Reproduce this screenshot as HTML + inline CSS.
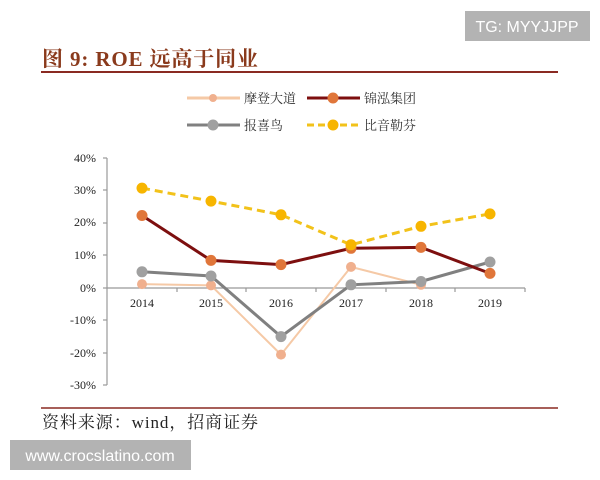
<!DOCTYPE html>
<html><head><meta charset="utf-8"><style>
body{margin:0;width:600px;height:480px;background:#fff;overflow:hidden;font-family:"Liberation Serif","Noto Serif CJK SC",serif;}
</style></head><body>
<svg width="600" height="480" viewBox="0 0 600 480" xmlns="http://www.w3.org/2000/svg" style="position:absolute;left:0;top:0">
<rect x="465" y="11" width="125" height="30" fill="#b3b3b3"/>
<text x="527" y="32" font-family="Liberation Sans,sans-serif" font-size="16" fill="#fff" text-anchor="middle">TG: MYYJJPP</text>
<text x="42" y="66" font-size="21" font-weight="bold" fill="#8a3a1c" font-family="Liberation Serif,'Noto Serif CJK SC',serif" textLength="216" lengthAdjust="spacing">图 9:  ROE 远高于同业</text>
<line x1="41" y1="72" x2="558" y2="72" stroke="#8a2a22" stroke-width="2"/>
<g font-size="13" fill="#333" font-family="Liberation Serif,'Noto Serif CJK SC',serif">
<line x1="187" y1="98" x2="240" y2="98" stroke="#f5c9a6" stroke-width="3"/><circle cx="213" cy="98" r="4" fill="#f0b08e"/>
<text x="244" y="103">摩登大道</text>
<line x1="307" y1="98" x2="360" y2="98" stroke="#7d0f0f" stroke-width="3"/><circle cx="333" cy="98" r="5.5" fill="#e0763a"/>
<text x="364" y="103">锦泓集团</text>
<line x1="187" y1="125" x2="240" y2="125" stroke="#808080" stroke-width="3"/><circle cx="213" cy="125" r="5.5" fill="#a0a0a0"/>
<text x="244" y="130">报喜鸟</text>
<line x1="307" y1="125" x2="360" y2="125" stroke="#f2c21a" stroke-width="3" stroke-dasharray="7,4"/><circle cx="333" cy="125" r="5.5" fill="#f7b500"/>
<text x="364" y="130">比音勒芬</text>
</g>
<g font-size="12" fill="#222" text-anchor="end">
<text x="96" y="162">40%</text><text x="96" y="194">30%</text><text x="96" y="226">20%</text><text x="96" y="259">10%</text><text x="96" y="292">0%</text><text x="96" y="324">-10%</text><text x="96" y="357">-20%</text><text x="96" y="389">-30%</text>
</g>
<g stroke="#999" stroke-width="1.2">
<line x1="107" y1="158" x2="107" y2="385"/>
<line x1="103" y1="158" x2="107" y2="158"/><line x1="103" y1="190" x2="107" y2="190"/><line x1="103" y1="223" x2="107" y2="223"/><line x1="103" y1="255" x2="107" y2="255"/><line x1="103" y1="288" x2="107" y2="288"/><line x1="103" y1="320" x2="107" y2="320"/><line x1="103" y1="353" x2="107" y2="353"/><line x1="103" y1="385" x2="107" y2="385"/>
<line x1="107" y1="288" x2="525" y2="288"/>
<line x1="177" y1="288" x2="177" y2="292"/><line x1="246" y1="288" x2="246" y2="292"/><line x1="316" y1="288" x2="316" y2="292"/><line x1="386" y1="288" x2="386" y2="292"/><line x1="455" y1="288" x2="455" y2="292"/><line x1="525" y1="288" x2="525" y2="292"/>
</g>
<g font-size="12" fill="#222" text-anchor="middle">
<text x="142" y="307">2014</text><text x="211" y="307">2015</text><text x="281" y="307">2016</text><text x="351" y="307">2017</text><text x="421" y="307">2018</text><text x="490" y="307">2019</text>
</g>
<polyline points="142,284.1 211,285.4 281,354.6 351,266.9 421,284.8" fill="none" stroke="#f5c9a6" stroke-width="2"/>
<g fill="#f0b08e"><circle cx="142" cy="284.1" r="5"/><circle cx="211" cy="285.4" r="5"/><circle cx="281" cy="354.6" r="5"/><circle cx="351" cy="266.9" r="5"/><circle cx="421" cy="284.8" r="5"/></g>
<polyline points="142,271.8 211,276 281,336.6 351,284.8 421,281.5 490,262" fill="none" stroke="#808080" stroke-width="3"/>
<g fill="#a0a0a0"><circle cx="142" cy="271.8" r="5.5"/><circle cx="211" cy="276" r="5.5"/><circle cx="281" cy="336.6" r="5.5"/><circle cx="351" cy="284.8" r="5.5"/><circle cx="421" cy="281.5" r="5.5"/><circle cx="490" cy="262" r="5.5"/></g>
<polyline points="142,215.5 211,260.4 281,264.6 351,248.3 421,247.4 490,273.4" fill="none" stroke="#7d0f0f" stroke-width="3"/>
<g fill="#e0763a"><circle cx="142" cy="215.5" r="5.5"/><circle cx="211" cy="260.4" r="5.5"/><circle cx="281" cy="264.6" r="5.5"/><circle cx="351" cy="248.3" r="5.5"/><circle cx="421" cy="247.4" r="5.5"/><circle cx="490" cy="273.4" r="5.5"/></g>
<polyline points="142,188.1 211,201.1 281,214.8 351,244.8 421,226.3 490,213.9" fill="none" stroke="#f2c21a" stroke-width="3" stroke-dasharray="8,5"/>
<g fill="#f7b500"><circle cx="142" cy="188.1" r="5.5"/><circle cx="211" cy="201.1" r="5.5"/><circle cx="281" cy="214.8" r="5.5"/><circle cx="351" cy="244.8" r="5.5"/><circle cx="421" cy="226.3" r="5.5"/><circle cx="490" cy="213.9" r="5.5"/></g>
<line x1="41" y1="408" x2="558" y2="408" stroke="#8a2a22" stroke-width="1.5"/>
<text x="42" y="428" font-size="17" fill="#222" textLength="216" lengthAdjust="spacing">资料来源：wind，招商证券</text>
<rect x="10" y="440" width="181" height="30" fill="#b3b3b3"/>
<text x="100" y="461" font-family="Liberation Sans,sans-serif" font-size="16" fill="#fff" text-anchor="middle">www.crocslatino.com</text>
</svg>
</body></html>
